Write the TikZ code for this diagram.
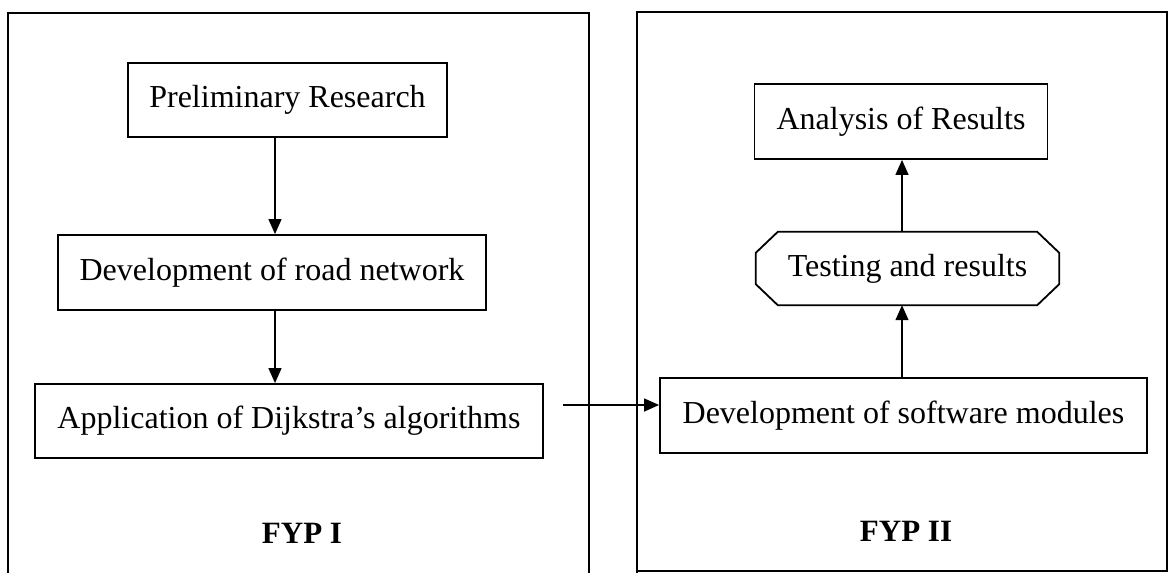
\documentclass[tikz,border=0pt]{standalone}
\usepackage{fontspec}
\setmainfont{Liberation Serif}
\usetikzlibrary{arrows.meta}
\begin{document}
\begin{tikzpicture}[x=1pt,y=-1pt,
  frame/.style={draw,line width=1.6pt},
  stepbox/.style={draw,line width=1.8pt,rectangle,inner sep=0pt,align=center,font=\fontsize{32}{38}\selectfont},
  octtext/.style={inner sep=0pt,align=center,font=\fontsize{32}{38}\selectfont},
  octline/.style={line width=1.8pt,line join=miter},
  arr/.style={line width=1.3pt,-{Triangle[length=15pt,width=13pt]}},
  lbl/.style={inner sep=0pt,font=\fontsize{31}{36}\selectfont\bfseries}]
\useasboundingbox (0,0) rectangle (1171,573);
% frames
\draw[frame] (8,573) -- (8,13) -- (589,13) -- (589,573);
\draw[frame] (637,573) -- (637,12) -- (1167,12) -- (1167,571) -- (637,571);
% nodes
\node[stepbox,minimum width=319pt,minimum height=74pt] (pre) at (287.5,100) {Preliminary Research};
\node[stepbox,minimum width=428pt,minimum height=75pt] (road) at (272,272.5) {Development of road network};
\node[stepbox,minimum width=508pt,minimum height=74pt] (app) at (289,421) {Application of Dijkstra’s algorithms};
\node[stepbox,minimum width=487pt,minimum height=75pt] (dev) at (903.5,415.5) {Development of software modules};
\node[octtext,minimum width=303pt,minimum height=73pt] (test) at (907.5,268.5) {Testing and results};
\draw[octline] ([xshift=22pt]test.north west) -- ([xshift=-22pt]test.north east)
  -- ([yshift=-21pt]test.north east) -- ([yshift=21pt]test.south east)
  -- ([xshift=-22pt]test.south east) -- ([xshift=22pt]test.south west)
  -- ([yshift=21pt]test.south west) -- ([yshift=-21pt]test.north west) -- cycle;
\node[stepbox,minimum width=293pt,minimum height=75pt] (ana) at (901,121.5) {Analysis of Results};
\node[lbl] (f1) at (302,533) {FYP I};
\node[lbl] (f2) at (906,531) {FYP II};
% connectors
\coordinate (ax) at (275,0);
\coordinate (bx) at (902,0);
\coordinate (hs) at (563,405);
\draw[arr] (pre.south -| ax) -- (road.north -| ax);
\draw[arr] (road.south -| ax) -- (app.north -| ax);
\draw[arr] (hs) -- (dev.west |- hs);
\draw[arr] (dev.north -| bx) -- (test.south -| bx);
\draw[arr] (test.north -| bx) -- (ana.south -| bx);
\end{tikzpicture}
\end{document}
